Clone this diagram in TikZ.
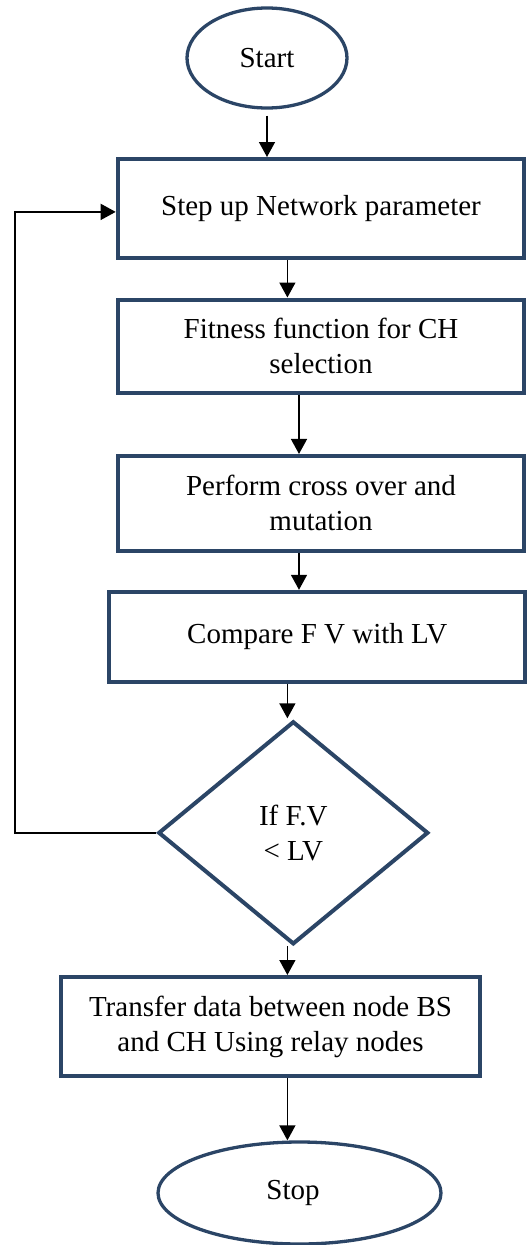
\documentclass[tikz,border=0pt]{standalone}
\usepackage{fontspec}
\setmainfont{Liberation Serif}
\usetikzlibrary{shapes.geometric,arrows.meta}
\definecolor{boxblue}{RGB}{43,69,102}
\newcommand\flowfont{\fontsize{29}{35}\selectfont}
\begin{document}
\begin{tikzpicture}[x=1pt,y=-1pt,
  proc/.style={draw=boxblue, line width=4pt, rectangle, inner sep=0pt, align=center, font=\flowfont},
  term/.style={draw=boxblue, line width=3.3pt, ellipse, inner sep=0pt, font=\flowfont},
  dec/.style={draw=boxblue, line width=4pt, diamond, inner sep=0pt, align=center, font=\flowfont},
  arr/.style={draw=black, line width=1.5pt, -{Triangle[width=16pt,length=15pt]}}]
\path[use as bounding box, clip] (0,0) rectangle (529,1245);

% flowchart steps
\node[term, minimum width=160, minimum height=100] (start) at (267,58) {Start};
\node[proc, minimum width=406.6, minimum height=99] (b1) at (321,208.5) {Step up Network parameter};
\node[proc, minimum width=406.5, minimum height=93] (b2) at (321,346) {Fitness function for CH\\selection};
\node[proc, minimum width=406.5, minimum height=94.7] (b3) at (321,503.3) {Perform cross over and\\mutation};
\node[proc, minimum width=415.7, minimum height=89.8] (b4) at (317.2,636.7) {Compare F V with LV};
\node[dec, minimum width=270, minimum height=223] (dia) at (293.3,832.8) {If F.V\\< LV};
\node[proc, minimum width=418.4, minimum height=99] (b5) at (270.5,1026.5) {Transfer data between node BS\\and CH Using relay nodes};
\node[term, minimum width=283, minimum height=102] (stop) at (299.5,1193) {\hspace*{-13pt}Stop};

% vertical positions of the connectors
\coordinate (xa) at (287.4,0);
\coordinate (xb) at (299,0);
\coordinate (xl) at (15.2,0);

% connectors
\draw[arr, shorten <=6pt] (start.south) -- (start.south |- b1.north);
\draw[arr] (b1.south -| xa) -- (b2.north -| xa);
\draw[arr] (b2.south -| xb) -- (b3.north -| xb);
\draw[arr] (b3.south -| xb) -- (b4.north -| xb);
\draw[arr] (b4.south -| xa) -- ([yshift=1pt]dia.north -| xa);
\draw[arr] (dia.south -| xa) -- (b5.north -| xa);
\draw[arr] (b5.south -| xa) -- (stop.north -| xa);
\draw[arr] (dia.west) -- (dia.west -| xl) |- ([yshift=-3.4pt]b1.west);
\end{tikzpicture}
\end{document}
